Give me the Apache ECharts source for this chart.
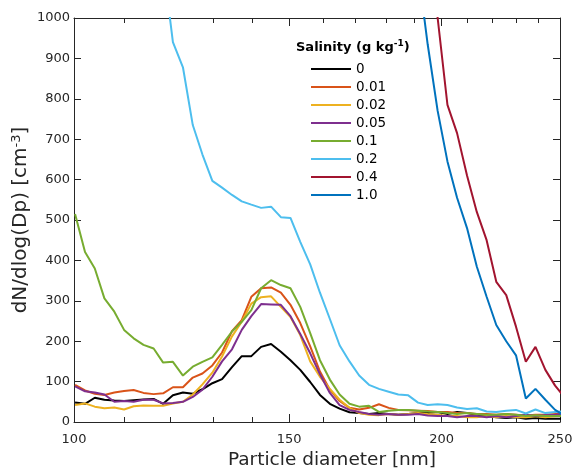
<!DOCTYPE html>
<html><head><meta charset="utf-8">
<script src="https://cdn.jsdelivr.net/npm/echarts@6/dist/echarts.min.js"></script>
<style>html,body{margin:0;padding:0;background:#fff}#c{width:574px;height:468px}</style>
</head><body><div id="c"></div>
<script>
// Particle diameters (nm) of the size bins
const diameters = [100.2, 102.1, 104.0, 105.9, 107.9, 109.9, 111.9, 114.0, 116.2, 118.3,
  120.5, 122.8, 125.1, 127.4, 129.8, 132.2, 134.7, 137.2, 139.7, 142.3,
  145.0, 147.7, 150.4, 153.2, 156.1, 159.0, 162.0, 165.0, 168.1, 171.2,
  174.4, 177.7, 181.0, 184.3, 187.8, 191.3, 194.8, 198.5, 202.2, 205.9,
  209.8, 213.7, 217.7, 221.7, 225.9, 230.1, 234.4, 238.7, 243.2, 247.7, 252.4];

const sal_0 = [48,45,60,55,53,52,54,56,57,45,66,73,70,81,96,106,136,163,163,186,193,174,153,129,99,67,45,33,24,22,
  20,22,20,18,20,22,22,25,20,25,22,18,15,12,10,12,8,10,8,8,8];
const sal_001 = [92,78,70,67,73,77,79,72,69,71,86,86,110,120,140,172,225,252,310,331,333,320,290,245,187,125,80,
  52,35,31,35,44,35,30,29,28,27,25,25,22,22,20,20,18,20,18,16,18,18,20,20];
const sal_002 = [42,46,38,34,36,31,39,41,40,40,46,50,68,93,122,162,212,248,293,309,311,285,260,215,150,112,82,55,
  35,22,18,17,20,18,20,22,20,18,15,15,12,12,15,12,15,12,12,14,12,14,15];
const sal_005 = [88,76,73,68,50,52,50,55,55,46,47,50,62,80,112,150,180,228,262,292,291,290,262,218,170,118,72,
  42,30,25,20,18,20,18,18,20,16,15,15,12,15,15,12,15,12,15,18,15,17,18,20];
const sal_01 = [515,421,380,306,273,228,207,191,182,147,149,115,137,149,160,191,224,248,277,331,351,339,331,285,220,153,105,68,45,38,40,25,
  28,30,30,28,26,25,22,20,22,20,18,18,20,18,15,17,15,15,15];
const sal_02 = [null,null,null,null,null,null,null,null,1400,1136,940,878,735,662,597,580,562,546,538,530,533,507,505,446,390,320,255,190,150,115,
  92,82,75,68,66,48,42,44,42,36,32,34,26,25,28,30,21,31,22,25,27];
const sal_04 = [null,null,null,null,null,null,null,null,null,null,null,null,null,null,null,null,null,null,null,null,
  null,null,null,null,null,null,null,null,null,null,null,null,null,null,null,
  1500,1230,1000,785,715,610,520,450,347,314,236,149,186,129,90,60];
const sal_10 = [null,null,null,null,null,null,null,null,null,null,null,null,null,null,null,null,null,null,null,null,
  null,null,null,null,null,null,null,null,null,null,null,null,null,null,
  1400,1120,935,770,645,555,480,385,310,240,200,165,58,82,55,30,15];

const seriesNames = ['0', '0.01', '0.02', '0.05', '0.1', '0.2', '0.4', '1.0'];
const seriesValues = [sal_0, sal_001, sal_002, sal_005, sal_01, sal_02, sal_04, sal_10];
const seriesColors = ['#000000', '#D95319', '#EDB120', '#7E2F8E', '#77AC30', '#4DBEEE', '#A2142F', '#0072BD'];

const xMajorTicks = [100, 150, 200, 250];
const xMinorTicks = [110, 120, 130, 140, 160, 170, 180, 190, 210, 220, 230, 240];
const yMin = 0, yMax = 1000, yStep = 100;

const FONT = 'DejaVu Sans';
const AX = '#262626';
const lg = Math.log10;
const xMin = lg(100), xMax = lg(250);

function xAxisDef(pos, ticks, len, showLabel, showLine) {
  return {
    type: 'value', position: pos, min: xMin, max: xMax, gridIndex: 0,
    axisLine: { show: showLine, lineStyle: { color: AX, width: 1 } },
    axisTick: { show: true, inside: true, length: len, customValues: ticks.map(lg), lineStyle: { color: AX, width: 1 } },
    axisLabel: showLabel ? {
      show: true, customValues: ticks.map(lg), margin: 11,
      formatter: v => String(Math.round(Math.pow(10, v))),
      fontFamily: FONT, fontSize: 13, color: AX
    } : { show: false },
    splitLine: { show: false }
  };
}

const xAxes = [
  Object.assign(xAxisDef('bottom', xMajorTicks, 8, true, true), {
    name: 'Particle diameter [nm]', nameLocation: 'middle', nameGap: 28,
    nameTextStyle: { fontFamily: FONT, fontSize: 18.5, color: AX, padding: [0, 0, 0, 30] }
  }),
  xAxisDef('bottom', xMinorTicks, 5, false, false),
  xAxisDef('top', xMajorTicks, 8, false, true),
  xAxisDef('top', xMinorTicks, 5, false, false)
];

const yAxes = [
  {
    type: 'value', position: 'left', min: yMin, max: yMax, interval: yStep,
    axisLine: { show: true, lineStyle: { color: AX, width: 1 } },
    axisTick: { show: true, inside: true, length: 7, lineStyle: { color: AX } },
    axisLabel: { margin: 4, fontFamily: FONT, fontSize: 13, color: AX, formatter: v => String(v) },
    splitLine: { show: false },
    name: '{a|dN/dlog(Dp) [cm}{s|-3}{a|]}', nameLocation: 'middle', nameGap: 42,
    nameMoveOverlap: false,
    nameTextStyle: {
      color: AX,
      rich: {
        a: { fontFamily: FONT, fontSize: 20, color: AX, lineHeight: 22 },
        s: { fontFamily: FONT, fontSize: 13, color: AX, verticalAlign: 'top', lineHeight: 14 }
      }
    }
  },
  {
    type: 'value', position: 'right', min: yMin, max: yMax, interval: yStep,
    axisLine: { show: true, lineStyle: { color: AX, width: 1 } },
    axisTick: { show: true, inside: true, length: 7, lineStyle: { color: AX } },
    axisLabel: { show: false },
    splitLine: { show: false }
  }
];

const series = seriesNames.map((name, si) => ({
  name: name,
  type: 'line',
  xAxisIndex: 0, yAxisIndex: 0,
  symbol: 'none',
  clip: true,
  lineStyle: { color: seriesColors[si], width: 2 },
  itemStyle: { color: seriesColors[si] },
  data: diameters.map((d, i) => [lg(d), seriesValues[si][i]])
}));

const chart = echarts.init(document.getElementById('c'), null, { renderer: 'canvas' });
chart.setOption({
  animation: false,
  backgroundColor: '#fff',
  grid: { left: 74, right: 14, top: 18, bottom: 46, outerBoundsMode: 'none', containLabel: false },
  title: {
    text: '{b|Salinity (g kg}{s|-1}{b|)}',
    left: 296, top: 39, padding: 0,
    textStyle: {
      rich: {
        b: { fontFamily: FONT, fontSize: 13, fontWeight: 'bold', color: '#000', lineHeight: 18 },
        s: { fontFamily: FONT, fontSize: 9, fontWeight: 'bold', color: '#000', verticalAlign: 'top', lineHeight: 12 }
      }
    }
  },
  legend: {
    orient: 'vertical', left: 310, top: 62, padding: 0,
    itemWidth: 40, itemHeight: 14, itemGap: 4,
    itemStyle: { opacity: 0 },
    textStyle: { fontFamily: FONT, fontSize: 13.5, color: '#000' },
    data: seriesNames
  },
  xAxis: xAxes,
  yAxis: yAxes,
  series: series
});
</script></body></html>
